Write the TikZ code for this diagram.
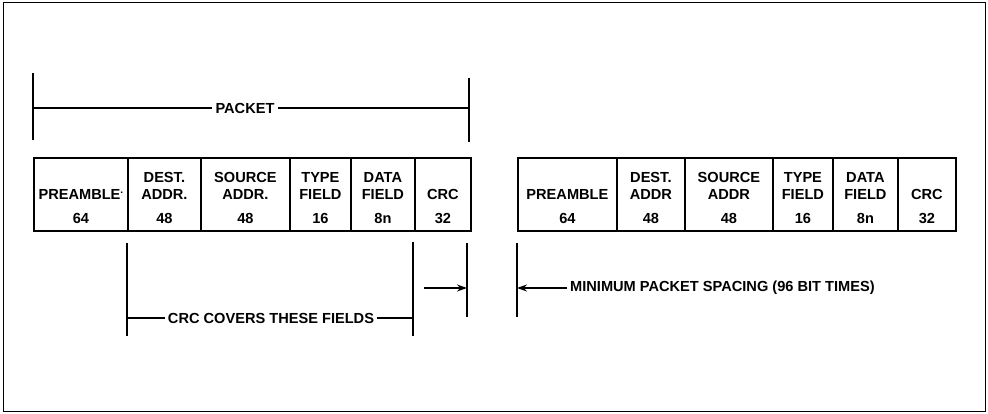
\documentclass[tikz,border=0pt]{standalone}
\usepackage{fontspec}
\setmainfont{Liberation Sans}
\usetikzlibrary{arrows.meta}
\newcommand\pktfield[6]{%
  \node[cell, minimum width=#3-#2, minimum height=73] (#1) at (#2,157) {};
  \node[lbl] (#1-a) at ([yshift=16.5pt]#1.center) {#4};
  \node[lbl] (#1-b) at ([yshift=-0.5pt]#1.center) {#5};
  \node[lbl] (#1-n) at ([yshift=-24.5pt]#1.center) {#6};
}
\begin{document}
\begin{tikzpicture}[x=1pt,y=-1pt,
  font=\fontsize{14.6}{16}\selectfont\bfseries,
  cell/.style={draw, line width=1.8pt, anchor=north west, inner sep=0pt},
  dim/.style={line width=1.4pt},
  lbl/.style={inner sep=1pt},
  arr/.style={dim, -{Stealth[length=10pt,width=7pt]}}]
\useasboundingbox (0,0) rectangle (988,414);
\draw[line width=0.9pt] (3,2) rectangle (985,411);

% first packet
\pktfield{a1}{33}{127}{}{PREAMBLE\raisebox{6pt}{\fontsize{10}{10}\selectfont.}}{64}
\pktfield{a2}{127}{200}{DEST.}{ADDR.}{48}
\pktfield{a3}{200}{289}{SOURCE}{ADDR.}{48}
\pktfield{a4}{289}{350}{TYPE}{FIELD}{16}
\pktfield{a5}{350}{414}{DATA}{FIELD}{8n}
\pktfield{a6}{414}{470}{}{CRC}{32}

% second packet
\pktfield{b1}{517}{616}{}{PREAMBLE}{64}
\pktfield{b2}{616}{684}{DEST.}{ADDR}{48}
\pktfield{b3}{684}{772}{SOURCE}{ADDR}{48}
\pktfield{b4}{772}{832}{TYPE}{FIELD}{16}
\pktfield{b5}{832}{897}{DATA}{FIELD}{8n}
\pktfield{b6}{897}{955}{}{CRC}{32}

% PACKET dimension
\coordinate (pkLt) at (33,73);  \coordinate (pkLb) at (33,140);
\coordinate (pkRt) at (469,78); \coordinate (pkRb) at (469,142);
\coordinate (pkL) at (33,108);  \coordinate (pkR) at (469,108);
\node[lbl, inner sep=3pt] (pk) at (245,108) {PACKET};
\draw[dim] (pkLt) -- (pkLb);
\draw[dim,line width=1.8pt] (pkRt) -- (pkRb);
\draw[dim] (pkL) -- (pk.west);
\draw[dim] (pk.east) -- (pkR);

% CRC covers dimension
\coordinate (ccLt) at (127,243); \coordinate (ccLb) at (127,336);
\coordinate (ccRt) at (413,242); \coordinate (ccRb) at (413,336);
\coordinate (ccL) at (127,318);  \coordinate (ccR) at (413,318);
\node[lbl, inner sep=3pt] (cc) at (271,318) {CRC COVERS THESE FIELDS};
\draw[dim] (ccLt) -- (ccLb);
\draw[dim] (ccRt) -- (ccRb);
\draw[dim] (ccL) -- (cc.west);
\draw[dim] (cc.east) -- (ccR);

% packet spacing
\coordinate (spLt) at (467,243); \coordinate (spLb) at (467,317);
\coordinate (spRt) at (517,243); \coordinate (spRb) at (517,317);
\coordinate (spL) at (467,288);  \coordinate (spR) at (517,288);
\coordinate (spA) at (424,288);
\draw[line width=1.9pt] (spLt) -- (spLb);
\draw[dim] (spRt) -- (spRb);
\draw[arr] (spA) -- (spL);
\node[lbl, inner sep=3pt, anchor=west] (sp) at (567,288) {MINIMUM PACKET SPACING (96 BIT TIMES)};
\draw[arr] (sp.west) -- (spR);
\end{tikzpicture}
\end{document}
